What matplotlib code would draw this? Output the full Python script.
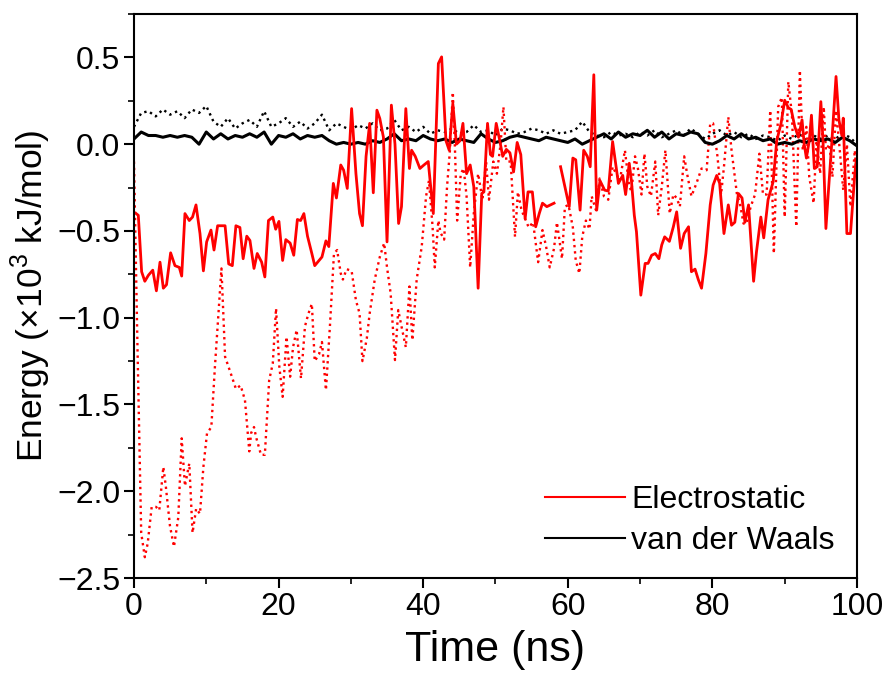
import numpy as np
import matplotlib
matplotlib.use("Agg")
import matplotlib.pyplot as plt
from matplotlib.ticker import MultipleLocator

plt.rcParams["font.family"] = ["Liberation Sans", "DejaVu Sans"]
plt.rcParams["mathtext.fontset"] = "custom"
plt.rcParams["mathtext.rm"] = "Liberation Sans"

# electrostatic, solid (legend series)
elec_t = [0.3, 0.6, 1.06, 1.5, 2.0, 2.6, 3.1, 3.6, 4.06, 4.5, 5.07, 5.67, 6.27, 6.6, 7.05, 7.65, 8.1, 8.58,
          9.13, 9.6, 10.05, 10.65, 11.07, 11.57, 12.6, 13.1, 13.6, 14.1, 14.65, 15.1, 15.6, 16.04, 16.6, 17.05,
          17.66, 18.1, 18.6, 19.2, 19.6, 20.05, 20.56, 21.0, 21.6, 22.1, 22.6, 23.05, 23.5, 24.0, 24.6, 25.0,
          25.6, 26.0, 26.55, 26.95, 27.57, 28.0, 28.6, 29.0, 29.5, 30.1, 30.7, 31.2, 31.6, 32.1, 32.6, 33.1,
          33.6, 34.0, 34.5, 35.0, 35.6, 36.1, 36.6, 37.0, 37.6, 38.1, 38.4, 38.9, 39.55, 40.1, 40.7, 41.4,
          42.1, 42.55, 43.15, 43.6, 44.1, 44.6, 45.1, 45.5, 46.0, 46.5, 47.0, 47.6, 48.1, 48.4, 48.9, 49.3,
          49.6, 50.1, 50.5, 51.0, 51.5, 52.0, 52.5, 53.0, 53.5, 54.1, 54.5, 55.1, 55.56, 56.05, 56.5, 57.1,
          57.6, 58.1, 58.5, 59.0, 59.6, 60.2, 60.7, 61.1, 61.7, 62.2, 62.7, 63.1, 63.6, 64.0, 64.45, 65.1,
          65.6, 66.2, 67.0, 67.6, 68.0, 68.5, 68.8, 69.2, 69.5, 70.1, 70.7, 71.1, 71.6, 72.1, 72.6, 73.0,
          73.4, 74.05, 74.6, 75.06, 75.6, 76.1, 76.7, 77.1, 77.6, 78.05, 78.5, 79.1, 79.7, 80.1, 80.6, 81.0,
          81.6, 82.2, 82.65, 83.1, 83.6, 84.1, 84.5, 85.0, 85.7, 86.1, 86.7, 87.1, 87.7, 88.4, 88.9, 89.5,
          90.0, 90.5, 90.9, 91.4, 91.9, 92.4, 92.7, 93.0, 93.4, 93.7, 94.1, 94.5, 95.0, 95.3, 95.7, 96.0,
          96.5, 97.1, 97.5, 97.9, 98.1, 98.6, 99.1, 99.7, 99.9]
elec_v = [-0.40, -0.41, -0.735, -0.79, -0.755, -0.726, -0.845, -0.68, -0.83, -0.81, -0.626, -0.70, -0.71,
          -0.76, -0.40, -0.44, -0.42, -0.35, -0.515, -0.73, -0.563, -0.495, -0.61, -0.47, -0.47, -0.69, -0.70,
          -0.47, -0.48, -0.66, -0.53, -0.555, -0.716, -0.63, -0.68, -0.765, -0.44, -0.42, -0.49, -0.445, -0.67,
          -0.55, -0.57, -0.64, -0.434, -0.44, -0.40, -0.53, -0.63, -0.70, -0.67, -0.65, -0.557, -0.59, -0.226,
          -0.31, -0.12, -0.15, -0.255, 0.205, -0.17, -0.40, -0.47, -0.07, 0.12, -0.28, 0.196, 0.148, 0.04,
          -0.563, 0.225, 0.0, -0.457, -0.36, 0.205, -0.14, -0.035, -0.07, -0.14, -0.12, -0.10, -0.40, 0.465,
          0.503, 0.02, -0.035, 0.234, 0.0, 0.02, 0.12, -0.17, -0.12, -0.245, -0.83, -0.284, -0.275, 0.12,
          -0.06, -0.07, 0.12, 0.04, -0.07, -0.03, -0.05, -0.16, 0.01, -0.06, -0.43, -0.275, -0.275, -0.476,
          -0.40, -0.34, -0.36, -0.35, -0.34, np.nan, -0.13, -0.245, -0.36, -0.08, -0.09, -0.38, -0.035, -0.07,
          -0.13, 0.40, -0.38, -0.21, -0.265, -0.27, 0.015, -0.226, -0.18, -0.29, -0.11, -0.21, -0.41, -0.505,
          -0.87, -0.687, -0.687, -0.64, -0.63, -0.66, -0.58, -0.534, -0.56, -0.476, -0.39, -0.60, -0.515,
          -0.476, -0.735, -0.72, -0.78, -0.83, -0.63, -0.35, -0.236, -0.18, -0.225, -0.515, -0.35, -0.467,
          -0.45, -0.284, -0.31, -0.45, -0.35, -0.79, -0.62, -0.42, -0.54, -0.32, -0.217, 0.02, 0.12, 0.253,
          0.21, 0.20, 0.10, 0.04, 0.14, 0.0, -0.08, 0.02, 0.167, -0.14, -0.13, 0.245, 0.02, -0.486, -0.30,
          0.0, 0.39, 0.14, 0.05, 0.15, -0.515, -0.515, -0.17, -0.09]

# electrostatic, dotted
elec2_t = [0.0, 0.5, 1.0, 1.5, 1.9, 2.45, 3.05, 3.5, 4.06, 4.4, 4.98, 5.53, 6.13, 6.6, 7.05, 7.65, 8.1, 8.6,
           9.13, 9.6, 10.1, 10.7, 11.2, 11.66, 12.1, 12.6, 13.3, 14.1, 14.75, 15.35, 15.95, 16.2, 16.6, 16.9,
           17.57, 18.1, 18.7, 19.2, 19.65, 20.1, 20.56, 21.1, 21.6, 22.0, 22.5, 23.1, 23.65, 24.1, 24.6, 25.0,
           25.6, 26.0, 26.55, 27.1, 27.66, 28.1, 28.6, 28.9, 29.4, 30.1, 30.7, 31.2, 31.6, 32.2, 32.6, 33.3,
           34.0, 34.6, 35.0, 35.5, 36.1, 36.55, 37.0, 37.6, 38.1, 38.5, 39.1, 39.8, 40.4, 40.8, 41.3, 41.6,
           42.1, 42.4, 42.9, 43.3, 43.7, 44.1, 44.4, 44.7, 45.2, 45.6, 46.0, 46.5, 47.0, 47.6, 48.2, 48.7,
           49.1, 49.7, 50.2, 50.7, 51.1, 51.5, 52.1, 52.7, 53.1, 53.6, 54.2, 54.6, 55.2, 55.9, 56.5, 57.0,
           57.5, 58.1, 58.5, 59.2, 59.6, 60.1, 60.7, 61.1, 61.6, 62.0, 62.5, 63.0, 63.3, 63.9, 64.4, 65.0,
           65.6, 66.2, 66.7, 67.2, 67.9, 68.5, 68.8, 69.3, 69.7, 70.2, 70.6, 71.0, 71.5, 72.1, 72.5, 73.0,
           73.5, 74.1, 74.6, 75.06, 75.5, 76.1, 76.5, 77.1, 77.8, 78.5, 79.2, 79.7, 80.1, 80.7, 81.2, 81.6,
           82.2, 82.65, 83.4, 83.8, 84.3, 84.7, 85.3, 85.9, 86.5, 87.0, 87.5, 88.0, 88.5, 89.1, 89.6, 90.0,
           90.5, 91.0, 91.6, 92.1, 92.5, 93.0, 93.4, 94.0, 94.4, 94.9, 95.4, 95.7, 96.2, 96.6, 97.1, 97.5,
           98.1, 98.6, 99.1, 99.7, 99.9]
elec2_v = [-0.10, -1.2, -2.24, -2.38, -2.30, -2.09, -2.09, -2.11, -1.86, -1.97, -2.20, -2.32, -2.15, -1.695,
           -1.97, -1.84, -2.24, -2.10, -2.13, -1.86, -1.667, -1.63, -1.28, -0.995, -0.716, -1.225, -1.31, -1.41,
           -1.39, -1.475, -1.77, -1.665, -1.63, -1.69, -1.79, -1.79, -1.36, -1.263, -0.946, -1.28, -1.456,
           -1.11, -1.34, -1.17, -1.07, -1.35, -1.05, -0.98, -0.92, -1.25, -1.21, -1.14, -1.417, -1.05, -0.63,
           -0.61, -0.745, -0.78, -0.72, -0.73, -0.90, -0.975, -1.25, -1.12, -0.975, -0.78, -0.65, -0.57,
           -0.71, -0.86, -1.244, -0.956, -1.05, -1.17, -0.82, -1.13, -0.78, -0.59, -0.30, -0.21, -0.476,
           -0.71, -0.44, -0.51, -0.55, -0.245, -0.035, 0.30, -0.035, -0.44, -0.17, -0.14, -0.30, -0.71, -0.40,
           -0.17, -0.32, -0.10, -0.32, -0.10, -0.17, 0.0, 0.215, -0.10, -0.10, -0.534, -0.275, -0.38, -0.44,
           -0.48, -0.45, -0.68, -0.495, -0.59, -0.71, -0.60, -0.45, -0.66, -0.36, -0.35, -0.48, -0.67, -0.745,
           -0.534, -0.44, -0.49, -0.30, -0.38, -0.198, -0.30, -0.32, -0.13, -0.17, -0.21, -0.035, -0.245,
           -0.27, -0.07, -0.14, -0.29, -0.055, -0.245, -0.30, -0.10, -0.41, -0.245, -0.035, -0.40, -0.29,
           -0.31, -0.36, -0.07, -0.17, -0.30, -0.225, -0.14, -0.15, 0.12, 0.12, -0.07, -0.29, -0.13, 0.157,
           -0.035, -0.29, -0.34, -0.457, -0.46, -0.36, -0.29, -0.055, -0.29, -0.29, 0.195, -0.63, 0.215, 0.27,
           -0.42, 0.36, 0.17, -0.476, 0.426, -0.035, 0.10, -0.19, -0.34, 0.02, -0.17, 0.215, -0.035, 0.0,
           -0.19, 0.195, 0.02, -0.265, 0.0, -0.36, -0.035, -0.16]

# van der Waals, 1 ns steps
vdw_t = list(range(0, 101))
vdw_v = [0.03, 0.07, 0.05, 0.05, 0.04, 0.05, 0.04, 0.05, 0.04, 0.0, 0.07, 0.03, 0.06, 0.03, 0.05, 0.04, 0.06,
         0.04, 0.07, 0.0, 0.05, 0.04, 0.06, 0.03, 0.05, 0.04, 0.05, 0.02, 0.0, 0.01, 0.0, 0.01, 0.0, 0.02, 0.01,
         0.03, 0.06, 0.02, 0.03, 0.02, 0.05, 0.03, 0.02, 0.03, 0.01, 0.03, 0.02, 0.01, 0.06, 0.03, 0.01, 0.02,
         0.04, 0.05, 0.04, 0.03, 0.02, 0.04, 0.03, 0.02, 0.01, 0.03, 0.0, 0.02, 0.04, 0.06, 0.03, 0.07, 0.04,
         0.06, 0.05, 0.08, 0.04, 0.07, 0.03, 0.06, 0.05, 0.07, 0.06, 0.01, 0.0, 0.02, 0.05, 0.03, 0.06, 0.03,
         0.04, 0.02, 0.03, 0.0, 0.01, 0.0, 0.02, 0.01, 0.03, 0.02, 0.03, 0.01, 0.04, 0.02, -0.01]
vdw2_v = [0.10, 0.18, 0.19, 0.16, 0.20, 0.17, 0.19, 0.15, 0.20, 0.18, 0.22, 0.13, 0.10, 0.15, 0.09, 0.12, 0.14,
          0.10, 0.19, 0.10, 0.12, 0.15, 0.10, 0.13, 0.09, 0.12, 0.17, 0.08, 0.12, 0.10, 0.08, 0.11, 0.09, 0.12,
          0.08, 0.09, 0.14, 0.08, 0.10, 0.07, 0.10, 0.06, 0.08, 0.07, 0.09, 0.06, 0.07, 0.11, 0.07, 0.08, 0.05,
          0.09, 0.08, 0.06, 0.07, 0.09, 0.08, 0.06, 0.08, 0.06, 0.07, 0.08, 0.13, 0.07, 0.05, 0.04, 0.07, 0.05,
          0.06, 0.04, 0.07, 0.05, 0.08, 0.04, 0.06, 0.08, 0.05, 0.09, 0.06, 0.03, 0.06, 0.08, 0.05, 0.07, 0.04,
          0.06, 0.03, 0.05, 0.04, 0.02, 0.05, 0.03, 0.06, 0.02, 0.05, 0.03, 0.05, 0.03, 0.06, 0.04, 0.0]

fig = plt.figure(figsize=(8.89, 6.91), dpi=100)
ax = fig.add_axes([0.1507, 0.1635, 0.8133, 0.8162])

ax.plot(vdw_t, vdw2_v, color="black", ls=":", lw=1.7)
ax.plot(elec2_t, elec2_v, color="#ff0000", ls=":", lw=1.7)
ax.plot(vdw_t, vdw_v, color="black", lw=2.2)
ax.plot(elec_t, elec_v, color="#ff0000", lw=2.0)

# legend only for the solid lines
h1, = ax.plot([], [], color="#ff0000", lw=1.5, label="Electrostatic")
h2, = ax.plot([], [], color="black", lw=1.5, label="van der Waals")
ax.legend(handles=[h1, h2], loc="lower left", frameon=False, fontsize=23,
          handlelength=2.5, handletextpad=0.2, labelspacing=0.35,
          borderaxespad=0, bbox_to_anchor=(0.5505, 0.016))

ax.set_xlim(0, 100)
ax.set_ylim(-2.5, 0.75)
ax.xaxis.set_major_locator(MultipleLocator(20))
ax.xaxis.set_minor_locator(MultipleLocator(10))
ax.yaxis.set_major_locator(MultipleLocator(0.5))
ax.yaxis.set_minor_locator(MultipleLocator(0.25))
ax.tick_params(which="major", direction="out", length=7, width=1.5, labelsize=23, pad=3)
ax.tick_params(which="minor", direction="out", length=4, width=1.2)
for s in ax.spines.values():
    s.set_linewidth(1.5)

ax.set_xlabel("Time (ns)", fontsize=31, labelpad=6)
ax.set_ylabel("Energy (×10$^3$ kJ/mol)", fontsize=25.5, labelpad=3)

fig.savefig("out.png", dpi=100)
